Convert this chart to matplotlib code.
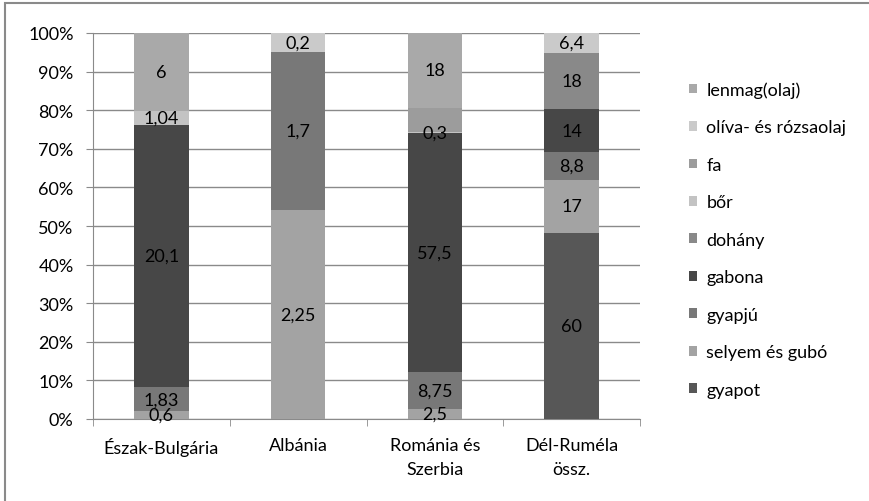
import numpy as np
from matplotlib import pyplot as plt
from matplotlib.patches import Rectangle

plt.rcParams['font.family'] = ['Lato', 'DejaVu Sans']

regions = ['Észak-Bulgária', 'Albánia', 'Románia és\nSzerbia', 'Dél-Ruméla\nössz.']

# series, bottom to top
names = ['gyapot', 'selyem és gubó', 'gyapjú', 'gabona', 'dohány', 'bőr', 'fa',
         'olíva- és rózsaolaj', 'lenmag(olaj)']
gyapot = [0, 0, 0, 60]
selyem = [0.6, 2.25, 2.5, 17]
gyapju = [1.83, 1.7, 8.75, 8.8]
gabona = [20.1, 0, 57.5, 14]
dohany = [0, 0, 0, 18]
bor = [1.04, 0, 0.3, 0]
fa = [0, 0, 5.8, 0]
oliva = [0, 0.2, 0, 6.4]
lenmag = [6, 0, 18, 0]
series = [gyapot, selyem, gyapju, gabona, dohany, bor, fa, oliva, lenmag]

# label not shown on the original for this segment
hidden = [('fa', 2)]

colors = ['#575757', '#a3a3a3', '#787878', '#474747', '#898989', '#c3c3c3',
          '#9c9c9c', '#cacaca', '#a9a9a9']

data = np.array(series, dtype=float)
pct = data / data.sum(axis=0) * 100

fig = plt.figure(figsize=(8.69, 5.02), dpi=100)
ax = fig.add_axes([93/869, 82/502, 547/869, 386/502])

x = np.arange(len(regions))
bottom = np.zeros(len(regions))
handles = []
for i, name in enumerate(names):
    b = ax.bar(x, pct[i], 0.4, bottom=bottom, color=colors[i], zorder=3, label=name)
    handles.append(b)
    for j in range(len(regions)):
        v = data[i][j]
        if v > 0 and (name, j) not in hidden:
            ax.text(x[j], bottom[j] + pct[i][j] / 2, ('%g' % v).replace('.', ','),
                    ha='center', va='center', fontsize=13, color='black', zorder=4)
    bottom += pct[i]

ax.set_xlim(-0.5, 3.5)
ax.set_ylim(0, 100)
ax.set_yticks(np.arange(0, 101, 10))
ax.set_yticklabels(['%d%%' % t for t in range(0, 101, 10)], fontsize=13)
ax.yaxis.grid(True, color='#8a8a8a', linewidth=1, zorder=0)
ax.set_xticks(x)
ax.set_xticklabels(regions, fontsize=13, linespacing=1.6)
ax.set_xticks(np.arange(-0.5, 4, 1), minor=True)
ax.tick_params(axis='x', which='major', length=0, pad=13)
ax.tick_params(axis='x', which='minor', length=5, color='#8a8a8a', direction='out')
ax.tick_params(axis='y', length=5, color='#8a8a8a', direction='out', pad=9)
for s in ['top', 'right']:
    ax.spines[s].set_visible(False)
for s in ['left', 'bottom']:
    ax.spines[s].set_color('#8a8a8a')

leg = fig.legend(handles[::-1], names[::-1], loc='upper left',
                 bbox_to_anchor=(673/869, 1 - 66/502), frameon=False, fontsize=13,
                 handlelength=0.45, handleheight=0.45, handletextpad=0.5,
                 labelspacing=1.19)

# outer chart frame
fig.patches.append(Rectangle((5/869, -0.1), 1.2, 1 - 4/502 + 0.1, transform=fig.transFigure,
                             fill=False, edgecolor='#8a8a8a', linewidth=1.5))

fig.savefig('out.png', dpi=100)
